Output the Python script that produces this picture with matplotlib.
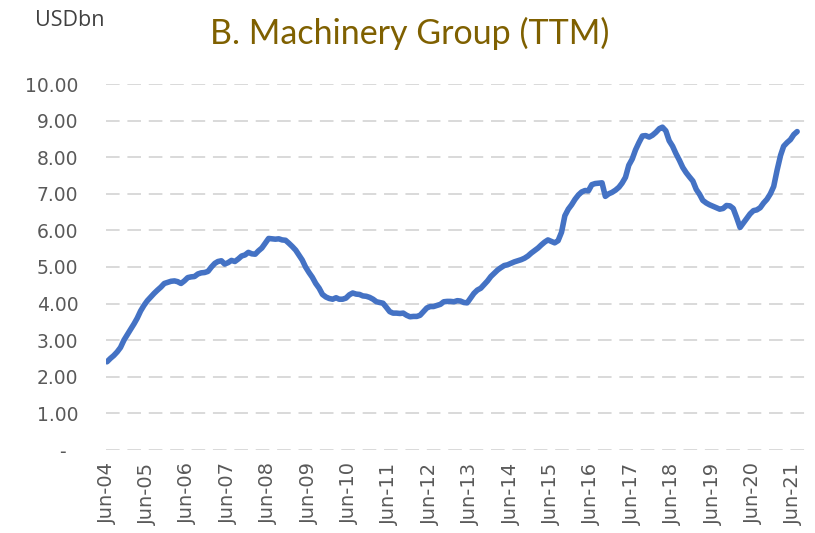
import matplotlib
matplotlib.use("Agg")
import matplotlib.pyplot as plt
import matplotlib.dates as mdates
import numpy as np
import pandas as pd

# monthly TTM value, USD bn, Jun-04 .. Jul-21
values = [
    2.41, 2.50, 2.58, 2.68, 2.80, 3.00, 3.15, 3.30, 3.45, 3.60, 3.80, 3.95,
    4.08, 4.18, 4.28, 4.37, 4.45, 4.55, 4.58, 4.61, 4.62, 4.60, 4.55, 4.62,
    4.71, 4.73, 4.74, 4.81, 4.84, 4.85, 4.88, 5.00, 5.10, 5.15, 5.17, 5.08,
    5.12, 5.18, 5.15, 5.22, 5.30, 5.33, 5.40, 5.36, 5.35, 5.44, 5.52, 5.65,
    5.78, 5.77, 5.76, 5.77, 5.74, 5.73, 5.65, 5.56, 5.46, 5.33, 5.19, 5.00,
    4.85, 4.72, 4.55, 4.42, 4.25, 4.18, 4.14, 4.12, 4.16, 4.12, 4.12, 4.15,
    4.24, 4.29, 4.26, 4.25, 4.21, 4.20, 4.17, 4.12, 4.05, 4.03, 4.01, 3.90,
    3.78, 3.74, 3.74, 3.73, 3.74, 3.68, 3.64, 3.65, 3.65, 3.68, 3.78, 3.88,
    3.92, 3.92, 3.95, 3.98, 4.05, 4.06, 4.06, 4.05, 4.08, 4.07, 4.03, 4.02,
    4.15, 4.28, 4.37, 4.42, 4.52, 4.62, 4.74, 4.83, 4.92, 4.98, 5.04, 5.06,
    5.10, 5.14, 5.17, 5.20, 5.24, 5.30, 5.38, 5.45, 5.52, 5.60, 5.68, 5.74,
    5.70, 5.66, 5.72, 5.95, 6.40, 6.58, 6.70, 6.85, 6.97, 7.05, 7.09, 7.08,
    7.25, 7.28, 7.29, 7.30, 6.93, 7.00, 7.04, 7.10, 7.18, 7.29, 7.45, 7.78,
    7.95, 8.20, 8.40, 8.58, 8.59, 8.55, 8.60, 8.68, 8.78, 8.82, 8.72, 8.45,
    8.30, 8.10, 7.92, 7.72, 7.58, 7.46, 7.35, 7.12, 6.98, 6.82, 6.75, 6.70,
    6.66, 6.62, 6.58, 6.60, 6.68, 6.67, 6.60, 6.35, 6.08, 6.20, 6.33, 6.45,
    6.54, 6.56, 6.62, 6.75, 6.85, 7.00, 7.20, 7.65, 8.05, 8.30, 8.40, 8.48,
    8.62, 8.70,
]
dates = pd.date_range("2004-06-01", periods=len(values), freq="MS")

yticks = [0, 1, 2, 3, 4, 5, 6, 7, 8, 9, 10]
ylabels = ["-  "] + [f"{v:.2f}" for v in yticks[1:]]
xtick_dates = pd.date_range("2004-06-01", "2021-06-01", freq="12MS")

fig = plt.figure(figsize=(8.15, 5.33), dpi=100)
ax = fig.add_axes([106 / 815, 83 / 533, 700 / 815, 366 / 533])

ax.plot(dates, values, color="#4472C4", lw=4, solid_capstyle="round",
        solid_joinstyle="round", zorder=3)

ax.set_ylim(0, 10)
ax.set_yticks(yticks)
ax.set_yticklabels(ylabels, fontsize=13.5, color="#595959", family="DejaVu Sans")
ax.set_xlim(dates[0] - pd.Timedelta(days=9), pd.Timestamp("2021-06-01") + pd.Timedelta(days=110))
ax.set_xticks(xtick_dates)
ax.xaxis.set_major_formatter(mdates.DateFormatter("%b-%y"))
plt.setp(ax.get_xticklabels(), rotation=90, fontsize=14, color="#595959", family="DejaVu Sans")

ax.grid(axis="y", color="#D9D9D9", lw=1.4, ls=(0, (7, 4)))
ax.set_axisbelow(True)
ax.tick_params(length=0)
ax.tick_params(axis="y", pad=20)
ax.tick_params(axis="x", pad=9)
for s in ax.spines.values():
    s.set_visible(False)

fig.text(410 / 815, 1 - 33 / 533, "B. Machinery Group (TTM)", ha="center", va="center",
         fontsize=24.5, color="#7F6000", family="Lato")
fig.text(35 / 815, 1 - 21 / 533, "USDbn", ha="left", va="center",
         fontsize=15.5, color="#404040", family="Open Sans")

fig.savefig("out.png", dpi=100, facecolor="white")
